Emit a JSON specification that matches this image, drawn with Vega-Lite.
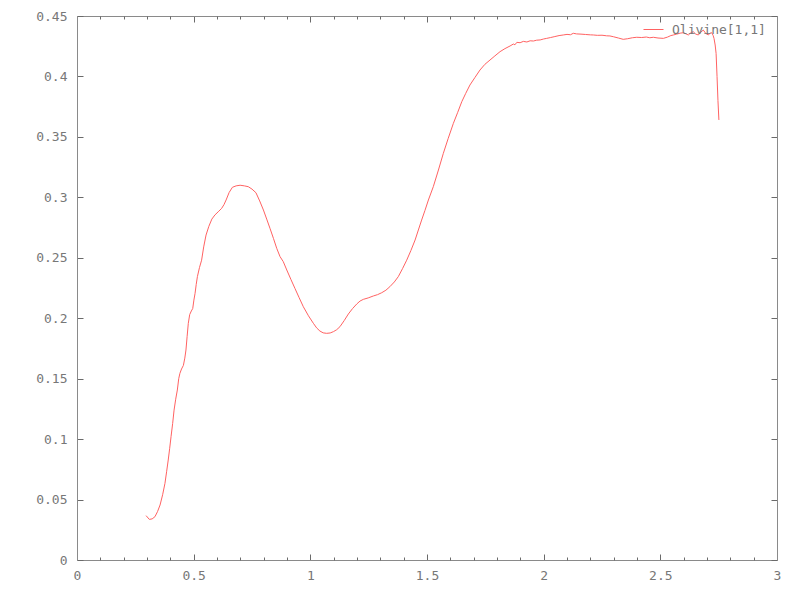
{
  "$schema": "https://vega.github.io/schema/vega-lite/v6.json",
  "width": 700,
  "height": 544,
  "autosize": {"type": "none"},
  "padding": {"left": 77, "top": 16, "right": 23, "bottom": 40},
  "background": "white",
  "config": {
    "view": {"stroke": null},
    "axis": {
      "domainColor": "#8a8a8a",
      "tickColor": "#6a6a6a",
      "labelColor": "#777777",
      "labelFont": "DejaVu Sans Mono",
      "labelFontSize": 13,
      "grid": false,
      "title": null
    }
  },
  "data": {
    "values": [
      {"e": 0.296, "v": 0.0367}, {"e": 0.310, "v": 0.0336}, {"e": 0.322, "v": 0.0340}, {"e": 0.334, "v": 0.0358},
      {"e": 0.345, "v": 0.0400}, {"e": 0.356, "v": 0.0455}, {"e": 0.367, "v": 0.0540}, {"e": 0.377, "v": 0.0634},
      {"e": 0.384, "v": 0.0730}, {"e": 0.391, "v": 0.0827}, {"e": 0.397, "v": 0.0920}, {"e": 0.403, "v": 0.1020},
      {"e": 0.410, "v": 0.1130}, {"e": 0.416, "v": 0.1240}, {"e": 0.423, "v": 0.1330}, {"e": 0.430, "v": 0.1406},
      {"e": 0.436, "v": 0.1500}, {"e": 0.441, "v": 0.1544}, {"e": 0.448, "v": 0.1580}, {"e": 0.456, "v": 0.1610},
      {"e": 0.462, "v": 0.1670}, {"e": 0.467, "v": 0.1737}, {"e": 0.472, "v": 0.1850}, {"e": 0.477, "v": 0.1958},
      {"e": 0.483, "v": 0.2030}, {"e": 0.490, "v": 0.2060}, {"e": 0.496, "v": 0.2080}, {"e": 0.501, "v": 0.2150},
      {"e": 0.506, "v": 0.2206}, {"e": 0.511, "v": 0.2280}, {"e": 0.516, "v": 0.2344}, {"e": 0.525, "v": 0.2420},
      {"e": 0.534, "v": 0.2480}, {"e": 0.543, "v": 0.2590}, {"e": 0.553, "v": 0.2688}, {"e": 0.565, "v": 0.2760},
      {"e": 0.578, "v": 0.2820}, {"e": 0.591, "v": 0.2854}, {"e": 0.605, "v": 0.2880}, {"e": 0.620, "v": 0.2909},
      {"e": 0.630, "v": 0.2940}, {"e": 0.639, "v": 0.2978}, {"e": 0.652, "v": 0.3040}, {"e": 0.666, "v": 0.3083},
      {"e": 0.682, "v": 0.3095}, {"e": 0.699, "v": 0.3100}, {"e": 0.717, "v": 0.3095}, {"e": 0.734, "v": 0.3088},
      {"e": 0.750, "v": 0.3068}, {"e": 0.767, "v": 0.3038}, {"e": 0.783, "v": 0.2970}, {"e": 0.799, "v": 0.2895},
      {"e": 0.813, "v": 0.2820}, {"e": 0.827, "v": 0.2744}, {"e": 0.842, "v": 0.2660}, {"e": 0.856, "v": 0.2578},
      {"e": 0.870, "v": 0.2510}, {"e": 0.884, "v": 0.2468}, {"e": 0.899, "v": 0.2399}, {"e": 0.917, "v": 0.2320},
      {"e": 0.934, "v": 0.2247}, {"e": 0.952, "v": 0.2170}, {"e": 0.970, "v": 0.2095}, {"e": 0.992, "v": 0.2020},
      {"e": 1.013, "v": 0.1958}, {"e": 1.027, "v": 0.1920}, {"e": 1.041, "v": 0.1894}, {"e": 1.055, "v": 0.1879},
      {"e": 1.070, "v": 0.1875}, {"e": 1.085, "v": 0.1878}, {"e": 1.099, "v": 0.1889}, {"e": 1.113, "v": 0.1905},
      {"e": 1.127, "v": 0.1930}, {"e": 1.145, "v": 0.1980}, {"e": 1.163, "v": 0.2035}, {"e": 1.181, "v": 0.2080},
      {"e": 1.199, "v": 0.2118}, {"e": 1.213, "v": 0.2142}, {"e": 1.227, "v": 0.2156}, {"e": 1.248, "v": 0.2168},
      {"e": 1.270, "v": 0.2184}, {"e": 1.288, "v": 0.2195}, {"e": 1.306, "v": 0.2211}, {"e": 1.324, "v": 0.2232},
      {"e": 1.341, "v": 0.2261}, {"e": 1.360, "v": 0.2300}, {"e": 1.377, "v": 0.2344}, {"e": 1.395, "v": 0.2410},
      {"e": 1.413, "v": 0.2480}, {"e": 1.431, "v": 0.2560}, {"e": 1.449, "v": 0.2647}, {"e": 1.463, "v": 0.2730},
      {"e": 1.477, "v": 0.2812}, {"e": 1.491, "v": 0.2890}, {"e": 1.506, "v": 0.2978}, {"e": 1.527, "v": 0.3088},
      {"e": 1.549, "v": 0.3226}, {"e": 1.570, "v": 0.3364}, {"e": 1.591, "v": 0.3488}, {"e": 1.613, "v": 0.3612},
      {"e": 1.631, "v": 0.3700}, {"e": 1.649, "v": 0.3791}, {"e": 1.666, "v": 0.3860}, {"e": 1.684, "v": 0.3929},
      {"e": 1.705, "v": 0.3990}, {"e": 1.727, "v": 0.4053}, {"e": 1.748, "v": 0.4100}, {"e": 1.770, "v": 0.4136},
      {"e": 1.791, "v": 0.4170}, {"e": 1.813, "v": 0.4205}, {"e": 1.834, "v": 0.4230}, {"e": 1.856, "v": 0.4252},
      {"e": 1.870, "v": 0.4268}, {"e": 1.877, "v": 0.4262}, {"e": 1.885, "v": 0.4282}, {"e": 1.899, "v": 0.4279},
      {"e": 1.913, "v": 0.4290}, {"e": 1.928, "v": 0.4285}, {"e": 1.942, "v": 0.4295}, {"e": 1.956, "v": 0.4293},
      {"e": 1.970, "v": 0.4300}, {"e": 1.985, "v": 0.4302}, {"e": 2.000, "v": 0.4310}, {"e": 2.013, "v": 0.4315},
      {"e": 2.030, "v": 0.4322}, {"e": 2.048, "v": 0.4330}, {"e": 2.066, "v": 0.4338}, {"e": 2.084, "v": 0.4343},
      {"e": 2.100, "v": 0.4348}, {"e": 2.115, "v": 0.4345}, {"e": 2.127, "v": 0.4357}, {"e": 2.141, "v": 0.4352},
      {"e": 2.160, "v": 0.4350}, {"e": 2.180, "v": 0.4347}, {"e": 2.200, "v": 0.4344}, {"e": 2.213, "v": 0.4343},
      {"e": 2.230, "v": 0.4340}, {"e": 2.250, "v": 0.4341}, {"e": 2.270, "v": 0.4336}, {"e": 2.284, "v": 0.4335},
      {"e": 2.300, "v": 0.4328}, {"e": 2.320, "v": 0.4318}, {"e": 2.341, "v": 0.4307}, {"e": 2.360, "v": 0.4312},
      {"e": 2.380, "v": 0.4320}, {"e": 2.399, "v": 0.4324}, {"e": 2.420, "v": 0.4322}, {"e": 2.440, "v": 0.4326},
      {"e": 2.455, "v": 0.4320}, {"e": 2.470, "v": 0.4324}, {"e": 2.490, "v": 0.4318}, {"e": 2.513, "v": 0.4315},
      {"e": 2.530, "v": 0.4325}, {"e": 2.545, "v": 0.4338}, {"e": 2.556, "v": 0.4343}, {"e": 2.570, "v": 0.4350},
      {"e": 2.585, "v": 0.4358}, {"e": 2.599, "v": 0.4362}, {"e": 2.610, "v": 0.4352}, {"e": 2.620, "v": 0.4343},
      {"e": 2.630, "v": 0.4360}, {"e": 2.641, "v": 0.4370}, {"e": 2.652, "v": 0.4350}, {"e": 2.663, "v": 0.4343},
      {"e": 2.673, "v": 0.4365}, {"e": 2.684, "v": 0.4384}, {"e": 2.695, "v": 0.4355}, {"e": 2.706, "v": 0.4343},
      {"e": 2.713, "v": 0.4358}, {"e": 2.720, "v": 0.4362}, {"e": 2.726, "v": 0.4340}, {"e": 2.730, "v": 0.4315},
      {"e": 2.735, "v": 0.4260}, {"e": 2.739, "v": 0.4190}, {"e": 2.743, "v": 0.4000}, {"e": 2.747, "v": 0.3800},
      {"e": 2.751, "v": 0.3640}
    ]
  },
  "transform": [{"calculate": "'Olivine[1,1]'", "as": "series"}],
  "layer": [
    {
      "mark": {"type": "line", "strokeWidth": 1, "interpolate": "linear"},
      "encoding": {
        "x": {
          "field": "e", "type": "quantitative",
          "scale": {"domain": [0, 3], "nice": false, "zero": false},
          "axis": {"orient": "bottom", "values": [0, 0.5, 1, 1.5, 2, 2.5, 3], "format": "~g", "tickSize": -6, "labelPadding": 15, "labelFlush": false}
        },
        "y": {
          "field": "v", "type": "quantitative",
          "scale": {"domain": [0, 0.45], "nice": false},
          "axis": {"orient": "left", "values": [0, 0.05, 0.1, 0.15, 0.2, 0.25, 0.3, 0.35, 0.4, 0.45], "format": "~g", "tickSize": -6, "labelPadding": 16}
        },
        "color": {
          "field": "series", "type": "nominal",
          "scale": {"range": ["#ff6262"]},
          "legend": {
            "orient": "none", "legendX": 566, "legendY": 3, "title": null,
            "symbolType": "stroke", "symbolSize": 400, "symbolStrokeWidth": 1,
            "labelFont": "DejaVu Sans Mono", "labelFontSize": 13, "labelColor": "#777777",
            "labelOffset": 8, "padding": 0
          }
        }
      }
    },
    {
      "mark": {"type": "line", "strokeOpacity": 0},
      "encoding": {
        "x": {"field": "e", "type": "quantitative", "axis": {"orient": "top", "values": [0, 0.5, 1, 1.5, 2, 2.5, 3], "labels": false, "tickSize": -6}},
        "y": {"field": "v", "type": "quantitative", "axis": {"orient": "right", "values": [0, 0.05, 0.1, 0.15, 0.2, 0.25, 0.3, 0.35, 0.4, 0.45], "labels": false, "tickSize": -6}}
      }
    },
    {
      "mark": {"type": "line", "strokeOpacity": 0},
      "encoding": {
        "x": {"field": "e", "type": "quantitative", "axis": {"orient": "bottom", "values": [0.1, 0.2, 0.3, 0.4, 0.6, 0.7, 0.8, 0.9, 1.1, 1.2, 1.3, 1.4, 1.6, 1.7, 1.8, 1.9, 2.1, 2.2, 2.3, 2.4, 2.6, 2.7, 2.8, 2.9], "labels": false, "domain": false, "tickSize": -3}},
        "y": {"field": "v", "type": "quantitative", "axis": null}
      }
    },
    {
      "mark": {"type": "line", "strokeOpacity": 0},
      "encoding": {
        "x": {"field": "e", "type": "quantitative", "axis": {"orient": "top", "values": [0.1, 0.2, 0.3, 0.4, 0.6, 0.7, 0.8, 0.9, 1.1, 1.2, 1.3, 1.4, 1.6, 1.7, 1.8, 1.9, 2.1, 2.2, 2.3, 2.4, 2.6, 2.7, 2.8, 2.9], "labels": false, "domain": false, "tickSize": -3}},
        "y": {"field": "v", "type": "quantitative", "axis": null}
      }
    }
  ],
  "resolve": {"axis": {"x": "independent", "y": "independent"}}
}
